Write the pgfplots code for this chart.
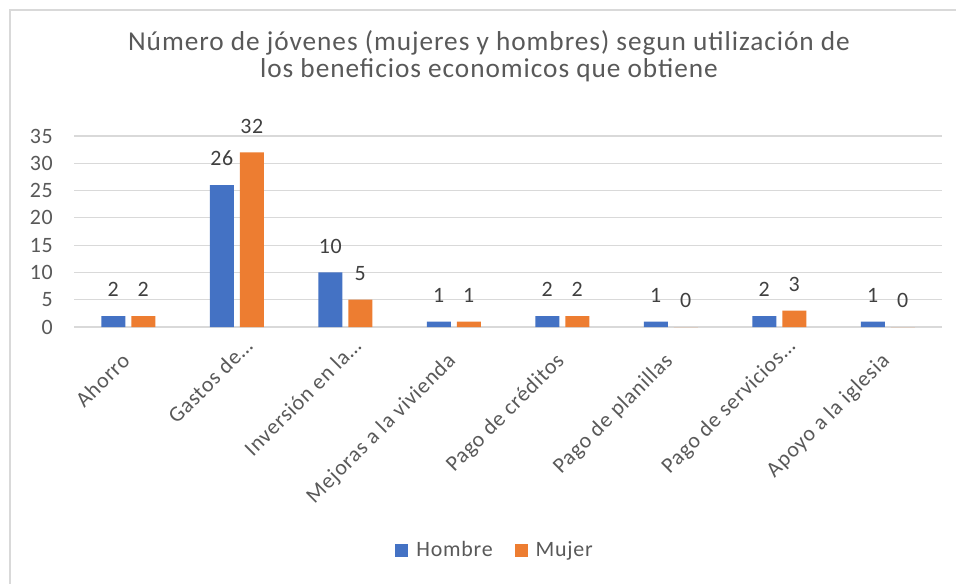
\documentclass[border=0pt]{standalone}
\usepackage{fontspec}
\setmainfont{Carlito}[LetterSpace=3.5]
\usepackage{pgfplots}
\pgfplotsset{compat=1.18}
\definecolor{cblue}{HTML}{4472C4}
\definecolor{corange}{HTML}{ED7D31}
\definecolor{gridc}{HTML}{D9D9D9}
\definecolor{txt}{HTML}{595959}
\definecolor{lbl}{HTML}{404040}
\begin{document}
\begin{tikzpicture}
\useasboundingbox (0,0) rectangle (956bp,-584bp);
\fill[white] (0,0) rectangle (956bp,-584bp);
\draw[gridc, line width=1.3bp] (10bp,-10bp) rectangle (1000bp,-700bp);
\node[text=txt, align=center, anchor=base, inner sep=0pt, font=\fontsize{27.4}{26.5}\selectfont] at (489bp,-77bp)
  {Número de jóvenes (mujeres y hombres) segun utilización de\\los beneficios economicos que obtiene};
\begin{axis}[
  at={(74bp,-327bp)}, anchor=south west,
  scale only axis, width=868bp, height=191bp,
  ybar=6bp, bar width=24bp,
  xmin=-0.5, xmax=7.5, ymin=0, ymax=35,
  ytick={0,5,...,35},
  xtick={0,...,7},
  xticklabels={Ahorro, Gastos de…\kern-20bp, Inversión en la…\kern-20bp, Mejoras a la vivienda, Pago de créditos, Pago de planillas, Pago de servicios…\kern-20bp, Apoyo a la iglesia},
  axis line style={draw=none},
  major tick length=0pt,
  ymajorgrids, grid style={gridc, line width=1.2bp},
  /pgf/number format/assume math mode=true,
  tick label style={font=\fontsize{22}{26}\selectfont, text=txt},
  yticklabel style={anchor=east, inner sep=0pt, xshift=-21bp},
  xticklabel style={xshift=3bp, yshift=-35bp, rotate=45, anchor=base east, inner sep=0pt},
  nodes near coords,
  nodes near coords style={font=\fontsize{22}{26}\selectfont, text=lbl, anchor=south, inner sep=0pt, yshift=19bp},
  legend image code/.code={\fill[#1] (0bp,-6.5bp) rectangle (13bp,6.5bp);},
  legend style={draw=none, fill=none, legend columns=2, at={(axis description cs:0.484,-1.1675)}, anchor=center,
    font=\fontsize{22}{26}\selectfont, text=txt,
    nodes={inner sep=0pt},
    /tikz/every odd column/.append style={column sep=8bp},
    /tikz/every even column/.append style={column sep=22bp}},
]
\addplot[fill=cblue, draw=none] coordinates {(0,2) (1,26) (2,10) (3,1) (4,2) (5,1) (6,2) (7,1)};
\addplot[fill=corange, draw=none] coordinates {(0,2) (1,32) (2,5) (3,1) (4,2) (5,0) (6,3) (7,0)};
\legend{Hombre, Mujer}
\end{axis}
\end{tikzpicture}
\end{document}
